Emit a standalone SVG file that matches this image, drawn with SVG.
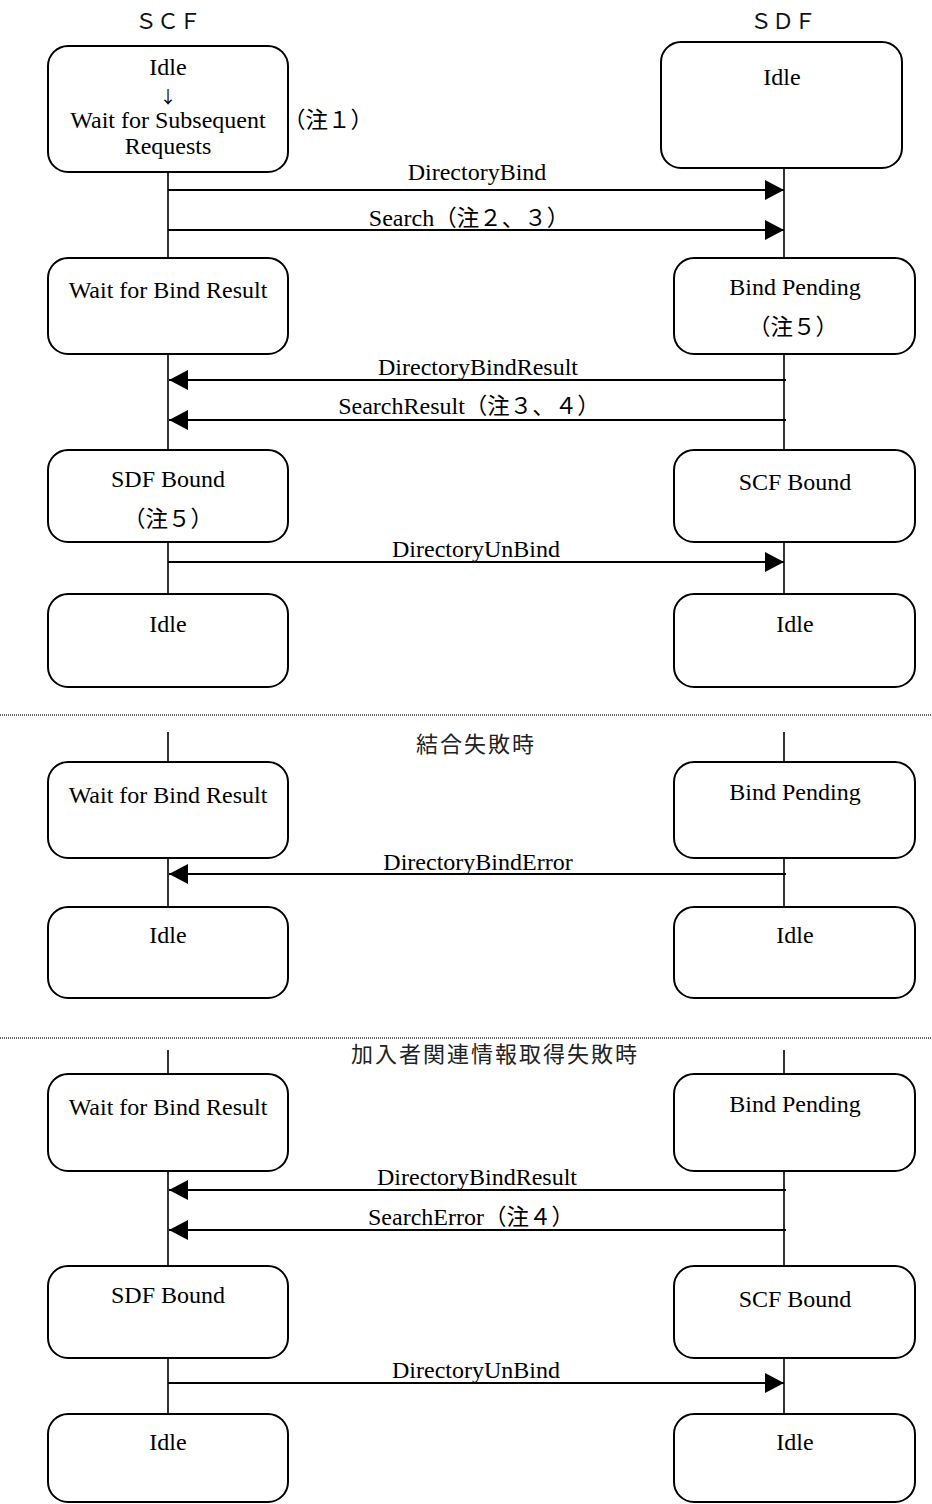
<svg xmlns="http://www.w3.org/2000/svg" width="932" height="1504" viewBox="0 0 932 1504">
<style>
.box{fill:#fff;stroke:#000;stroke-width:2}
.life{stroke:#000;stroke-width:1.6;fill:none}
.msg{stroke:#000;stroke-width:2;fill:none;marker-end:url(#ah)}
.sep{stroke:#333;stroke-width:1.4;stroke-dasharray:1 1;fill:none}
.t{font-family:"Liberation Serif","Noto Sans CJK JP",serif;font-size:24px;fill:#000;text-anchor:middle}
.j{font-family:"Noto Sans CJK JP",sans-serif;font-size:22.5px}
.arr{font-family:"Noto Sans CJK JP",sans-serif;font-size:17px;fill:#000}
.hd{font-family:"Noto Sans CJK JP",sans-serif;font-size:22px;fill:#111;text-anchor:middle}
.sec{font-family:"Noto Sans CJK JP",sans-serif;font-size:22px;fill:#222;text-anchor:middle;letter-spacing:2px}
</style>
<defs>
<marker id="ah" markerUnits="userSpaceOnUse" markerWidth="20" markerHeight="20" refX="19" refY="10" orient="auto">
<path d="M0,0 L19,10 L0,20 z" fill="#000"/>
</marker>
</defs>

<g id="headers">
<text class="hd" x="168" y="29">ＳＣＦ</text>
<text class="hd" x="783" y="29">ＳＤＦ</text>
</g>

<g id="separators">
<line class="sep" x1="0" y1="715" x2="932" y2="715"/>
<line class="sep" x1="0" y1="1038" x2="932" y2="1038"/>
<text class="sec" x="476" y="752">結合失敗時</text>
<text class="sec" x="495" y="1062">加入者関連情報取得失敗時</text>
</g>

<g id="lifelines">
<line class="life" x1="168" y1="172" x2="168" y2="258"/>
<line class="life" x1="784" y1="168" x2="784" y2="258"/>
<line class="life" x1="168" y1="354" x2="168" y2="450"/>
<line class="life" x1="784" y1="354" x2="784" y2="450"/>
<line class="life" x1="168" y1="542" x2="168" y2="594"/>
<line class="life" x1="784" y1="542" x2="784" y2="594"/>
<line class="life" x1="168" y1="732" x2="168" y2="762"/>
<line class="life" x1="784" y1="732" x2="784" y2="762"/>
<line class="life" x1="168" y1="858" x2="168" y2="907"/>
<line class="life" x1="784" y1="858" x2="784" y2="907"/>
<line class="life" x1="168" y1="1050" x2="168" y2="1074"/>
<line class="life" x1="784" y1="1050" x2="784" y2="1074"/>
<line class="life" x1="168" y1="1171" x2="168" y2="1266"/>
<line class="life" x1="784" y1="1171" x2="784" y2="1266"/>
<line class="life" x1="168" y1="1358" x2="168" y2="1414"/>
<line class="life" x1="784" y1="1358" x2="784" y2="1414"/>
</g>

<g id="connectors">
<line class="msg" x1="168" y1="190" x2="784" y2="190"/>
<text class="t" x="477" y="180">DirectoryBind</text>
<line class="msg" x1="168" y1="230" x2="784" y2="230"/>
<text class="t" x="469" y="226">Search<tspan class="j">（注２、３）</tspan></text>
<line class="msg" x1="786" y1="380" x2="169" y2="380"/>
<text class="t" x="478" y="375">DirectoryBindResult</text>
<line class="msg" x1="786" y1="420" x2="169" y2="420"/>
<text class="t" x="469" y="414">SearchResult<tspan class="j">（注３、４）</tspan></text>
<line class="msg" x1="168" y1="562" x2="784" y2="562"/>
<text class="t" x="476" y="557">DirectoryUnBind</text>
<line class="msg" x1="786" y1="874" x2="169" y2="874"/>
<text class="t" x="478" y="870">DirectoryBindError</text>
<line class="msg" x1="786" y1="1190" x2="169" y2="1190"/>
<text class="t" x="477" y="1185">DirectoryBindResult</text>
<line class="msg" x1="786" y1="1230" x2="169" y2="1230"/>
<text class="t" x="471" y="1225">SearchError<tspan class="j">（注４）</tspan></text>
<line class="msg" x1="168" y1="1383" x2="784" y2="1383"/>
<text class="t" x="476" y="1378">DirectoryUnBind</text>
</g>

<g id="scf-idle-wait">
<rect class="box" x="48" y="46" width="240" height="126" rx="20"/>
<text class="t" x="168" y="75">Idle</text>
<text class="t arr" x="168" y="103">↓</text>
<text class="t" x="168" y="128">Wait for Subsequent</text>
<text class="t" x="168" y="154">Requests</text>
<text class="t j" x="283" y="128" style="text-anchor:start">（注１）</text>
</g>
<g id="sdf-idle-1">
<rect class="box" x="661" y="42" width="241" height="126" rx="20"/>
<text class="t" x="782" y="85">Idle</text>
</g>

<g id="scf-wait-1">
<rect class="box" x="48" y="258" width="240" height="96" rx="20"/>
<text class="t" x="168" y="298">Wait for Bind Result</text>
</g>
<g id="sdf-pending-1">
<rect class="box" x="674" y="258" width="241" height="96" rx="20"/>
<text class="t" x="795" y="295">Bind Pending</text>
<text class="t j" x="793" y="335">（注５）</text>
</g>

<g id="scf-bound-1">
<rect class="box" x="48" y="450" width="240" height="92" rx="20"/>
<text class="t" x="168" y="487">SDF Bound</text>
<text class="t j" x="168" y="527">（注５）</text>
</g>
<g id="sdf-bound-1">
<rect class="box" x="674" y="450" width="241" height="92" rx="20"/>
<text class="t" x="795" y="490">SCF Bound</text>
</g>

<g id="scf-idle-2">
<rect class="box" x="48" y="594" width="240" height="93" rx="20"/>
<text class="t" x="168" y="632">Idle</text>
</g>
<g id="sdf-idle-2">
<rect class="box" x="674" y="594" width="241" height="93" rx="20"/>
<text class="t" x="795" y="632">Idle</text>
</g>

<g id="scf-wait-2">
<rect class="box" x="48" y="762" width="240" height="96" rx="20"/>
<text class="t" x="168" y="803">Wait for Bind Result</text>
</g>
<g id="sdf-pending-2">
<rect class="box" x="674" y="762" width="241" height="96" rx="20"/>
<text class="t" x="795" y="800">Bind Pending</text>
</g>

<g id="scf-idle-3">
<rect class="box" x="48" y="907" width="240" height="91" rx="20"/>
<text class="t" x="168" y="943">Idle</text>
</g>
<g id="sdf-idle-3">
<rect class="box" x="674" y="907" width="241" height="91" rx="20"/>
<text class="t" x="795" y="943">Idle</text>
</g>

<g id="scf-wait-3">
<rect class="box" x="48" y="1074" width="240" height="97" rx="20"/>
<text class="t" x="168" y="1115">Wait for Bind Result</text>
</g>
<g id="sdf-pending-3">
<rect class="box" x="674" y="1074" width="241" height="97" rx="20"/>
<text class="t" x="795" y="1112">Bind Pending</text>
</g>

<g id="scf-bound-2">
<rect class="box" x="48" y="1266" width="240" height="92" rx="20"/>
<text class="t" x="168" y="1303">SDF Bound</text>
</g>
<g id="sdf-bound-2">
<rect class="box" x="674" y="1266" width="241" height="92" rx="20"/>
<text class="t" x="795" y="1307">SCF Bound</text>
</g>

<g id="scf-idle-4">
<rect class="box" x="48" y="1414" width="240" height="88" rx="20"/>
<text class="t" x="168" y="1450">Idle</text>
</g>
<g id="sdf-idle-4">
<rect class="box" x="674" y="1414" width="241" height="88" rx="20"/>
<text class="t" x="795" y="1450">Idle</text>
</g>
</svg>
